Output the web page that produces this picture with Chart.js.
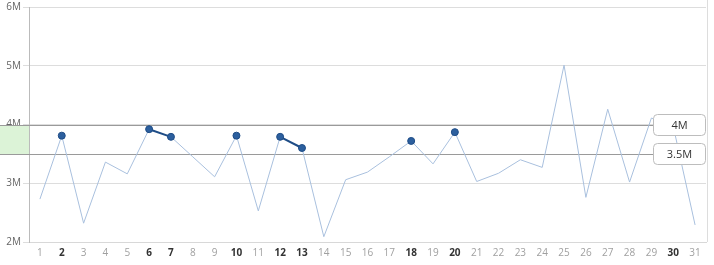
<!DOCTYPE html>
<html>
<head>
<meta charset="utf-8">
<script src="https://cdn.jsdelivr.net/npm/chart.js@4/dist/chart.umd.min.js"></script>
<style>
  html, body { margin: 0; padding: 0; background: #fff; }
  #wrap { width: 714px; height: 265px; }
</style>
</head>
<body>
<div id="wrap"><canvas id="chart"></canvas></div>
<script>
// days of the month
var days = ['1','2','3','4','5','6','7','8','9','10','11','12','13','14','15','16',
  '17','18','19','20','21','22','23','24','25','26','27','28','29','30','31'];
// values in millions
var values = [2.73, 3.81, 2.32, 3.36, 3.16, 3.92, 3.79, 3.45, 3.11, 3.81, 2.53, 3.79, 3.60, 2.09, 3.06, 3.19,
  3.45, 3.72, 3.33, 3.87, 3.03, 3.17, 3.40, 3.27, 5.01, 2.76, 4.26, 3.02, 4.11, 3.97, 2.29];
var yTicks = [2, 3, 4, 5, 6];
var upperLimit = 4;
var lowerLimit = 3.5;
var refLabels = ['4M', '3.5M'];

var lineColor = '#a9c0de';
var markColor = '#2c5f9e';
var markEdge = '#1e4c86';

function inRange(v) {
  return v >= lowerLimit && v <= upperLimit;
}

var refPlugin = {
  id: 'refs',
  beforeDatasetsDraw: function (chart) {
    var ctx = chart.ctx, area = chart.chartArea, y = chart.scales.y;
    var yHi = Math.round(y.getPixelForValue(upperLimit * 1e6)) + 0.5;
    var yLo = Math.round(y.getPixelForValue(lowerLimit * 1e6)) + 0.5;
    ctx.save();
    // green band left of the axis
    ctx.fillStyle = '#dcf3d7';
    ctx.fillRect(0, yHi, area.left, yLo - yHi);
    // reference lines
    ctx.strokeStyle = '#9a9a9a';
    ctx.lineWidth = 1;
    [yHi, yLo].forEach(function (py) {
      ctx.beginPath();
      ctx.moveTo(0, py);
      ctx.lineTo(area.right, py);
      ctx.stroke();
    });
    // right border
    ctx.strokeStyle = '#dddddd';
    ctx.beginPath();
    ctx.moveTo(707.5, 0);
    ctx.lineTo(707.5, area.bottom);
    ctx.stroke();
    ctx.restore();
  },
  afterDatasetsDraw: function (chart) {
    var ctx = chart.ctx, area = chart.chartArea, y = chart.scales.y;
    var limits = [upperLimit, lowerLimit];
    ctx.save();
    ctx.font = '11px "Open Sans", sans-serif';
    ctx.textAlign = 'center';
    ctx.textBaseline = 'middle';
    limits.forEach(function (v, i) {
      var py = y.getPixelForValue(v * 1e6);
      var w = 52, h = 21;
      var x0 = Math.round(area.right - w - 1) + 0.5;
      var y0 = Math.round(py - h / 2) + 0.5;
      ctx.beginPath();
      ctx.roundRect(x0, y0, w, h, 4);
      ctx.fillStyle = '#ffffff';
      ctx.fill();
      ctx.strokeStyle = '#bdbdbd';
      ctx.lineWidth = 1;
      ctx.stroke();
      ctx.fillStyle = '#333333';
      ctx.fillText(refLabels[i], x0 + w / 2, y0 + h / 2 + 1);
    });
    ctx.restore();
  }
};

new Chart(document.getElementById('chart'), {
  type: 'line',
  plugins: [refPlugin],
  data: {
    labels: days,
    datasets: [{
      data: values.map(function (v) { return v * 1e6; }),
      borderColor: lineColor,
      borderWidth: 1,
      tension: 0,
      pointRadius: function (c) { return inRange(values[c.dataIndex]) ? 3.5 : 0; },
      pointHoverRadius: 0,
      pointBackgroundColor: markColor,
      pointBorderColor: markEdge,
      pointBorderWidth: 1,
      segment: {
        borderColor: function (c) {
          return inRange(values[c.p0DataIndex]) && inRange(values[c.p1DataIndex]) ? markEdge : lineColor;
        },
        borderWidth: function (c) {
          return inRange(values[c.p0DataIndex]) && inRange(values[c.p1DataIndex]) ? 2 : 1;
        }
      }
    }]
  },
  options: {
    responsive: true,
    maintainAspectRatio: false,
    animation: false,
    events: [],
    layout: { padding: { top: 0, right: 8, left: 0, bottom: 0 } },
    plugins: { legend: { display: false }, tooltip: { enabled: false } },
    scales: {
      x: {
        offset: true,
        grid: { display: false, drawTicks: false },
        border: { display: true, color: '#d8d8d8' },
        afterFit: function (scale) { scale.height = 23; },
        ticks: {
          maxRotation: 0,
          autoSkip: false,
          padding: 5,
          font: function (c) {
            return { family: '"Open Sans", sans-serif', size: 10, weight: inRange(values[c.index]) ? 'bold' : 'normal' };
          },
          color: function (c) { return inRange(values[c.index]) ? '#333333' : '#a0a0a0'; }
        }
      },
      y: {
        min: yTicks[0] * 1e6,
        max: yTicks[yTicks.length - 1] * 1e6,
        afterFit: function (scale) { scale.width = 29; },
        afterBuildTicks: function (scale) {
          scale.ticks = yTicks.map(function (v) { return { value: v * 1e6 }; });
        },
        grid: { color: '#dddddd', tickLength: 6 },
        border: { color: '#bbbbbb' },
        ticks: {
          padding: 2,
          color: '#666666',
          font: { family: '"Open Sans", sans-serif', size: 10, lineHeight: 1 },
          callback: function (v) { return (v / 1e6) + 'M'; }
        }
      }
    }
  }
});
</script>
</body>
</html>
